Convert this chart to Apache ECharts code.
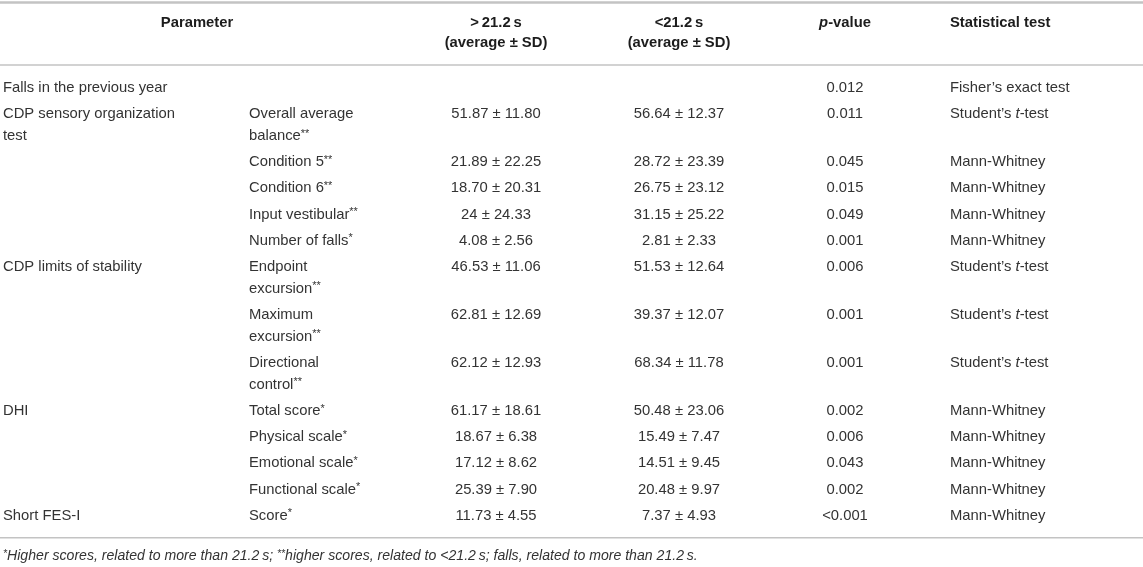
<!DOCTYPE html>
<html><head><meta charset="utf-8">
<script src="https://cdn.jsdelivr.net/npm/echarts@6/dist/echarts.min.js"></script>
<style>html,body{margin:0;padding:0;background:#fff}#c{width:1143px;height:567px}</style>
</head><body><div id="c"></div>
<script>
// ---- table content ----
const headers = ['Parameter', '>\u200921.2\u2009s\n(average ± SD)', '<21.2\u2009s\n(average ± SD)', 'p-value', 'Statistical test'];
const parameters = ['Falls in the previous year', 'CDP sensory organization\ntest', '', '', '', '', 'CDP limits of stability', '', '', 'DHI', '', '', '', 'Short FES-I'];
const subParameters = ['', 'Overall average\nbalance**', 'Condition 5**', 'Condition 6**', 'Input vestibular**', 'Number of falls*', 'Endpoint\nexcursion**', 'Maximum\nexcursion**', 'Directional\ncontrol**', 'Total score*', 'Physical scale*', 'Emotional scale*', 'Functional scale*', 'Score*'];
const aboveValues = ['', '51.87 ± 11.80', '21.89 ± 22.25', '18.70 ± 20.31', '24 ± 24.33', '4.08 ± 2.56', '46.53 ± 11.06', '62.81 ± 12.69', '62.12 ± 12.93', '61.17 ± 18.61', '18.67 ± 6.38', '17.12 ± 8.62', '25.39 ± 7.90', '11.73 ± 4.55'];
const belowValues = ['', '56.64 ± 12.37', '28.72 ± 23.39', '26.75 ± 23.12', '31.15 ± 25.22', '2.81 ± 2.33', '51.53 ± 12.64', '39.37 ± 12.07', '68.34 ± 11.78', '50.48 ± 23.06', '15.49 ± 7.47', '14.51 ± 9.45', '20.48 ± 9.97', '7.37 ± 4.93'];
const pValues = ['0.012', '0.011', '0.045', '0.015', '0.049', '0.001', '0.006', '0.001', '0.001', '0.002', '0.006', '0.043', '0.002', '<0.001'];
const tests = ['Fisher\u2019s exact test', 'Student\u2019s t-test', 'Mann-Whitney', 'Mann-Whitney', 'Mann-Whitney', 'Mann-Whitney', 'Student\u2019s t-test', 'Student\u2019s t-test', 'Student\u2019s t-test', 'Mann-Whitney', 'Mann-Whitney', 'Mann-Whitney', 'Mann-Whitney', 'Mann-Whitney'];
const footnote = '*Higher scores, related to more than 21.2\u2009s; **higher scores, related to <21.2\u2009s; falls, related to more than 21.2\u2009s.';

// ---- layout & style ----
const W = 1143, H = 567;
const FONT = "'Liberation Sans', Arial, Helvetica, sans-serif";
const L = { ruleTop: 2.5, headerRule: 65, headerY: 23, headerLineH: 20, firstRow: 88, rowGap: 26.2, lineH: 21.8, bottomPad: 22, footGap: 18.5 };
const COLS = [
  { key: 'param', x: 3, align: 'left' },
  { key: 'sub', x: 249, align: 'left' },
  { key: 'above', x: 496, align: 'center' },
  { key: 'below', x: 679, align: 'center' },
  { key: 'p', x: 845, align: 'center' },
  { key: 'test', x: 950, align: 'left' }
];
const HEADER_X = [{ x: 197, align: 'center' }, { x: 496, align: 'center' }, { x: 679, align: 'center' }, { x: 845, align: 'center' }, { x: 950, align: 'left' }];

function mkStyle(size, weight, italic, color, lh) {
  const base = { fontSize: size, fontFamily: FONT, fontWeight: weight, fontStyle: italic ? 'italic' : 'normal', fill: color, lineHeight: lh };
  return {
    base: base,
    rich: {
      sup: { fontSize: size * 0.74, fontFamily: FONT, fontWeight: weight, fontStyle: base.fontStyle, fill: color, verticalAlign: 'middle', lineHeight: size * 0.74, padding: [0, 0, 5, 0] },
      it: Object.assign({}, base, { fontStyle: 'italic' })
    }
  };
}
const STYLES = {
  header: mkStyle(14.8, 'bold', false, '#1c1c1c', L.headerLineH),
  body: mkStyle(14.8, 'normal', false, '#333333', L.lineH),
  foot: mkStyle(14.1, 'normal', true, '#333333', L.lineH)
};

function supify(s) { return s.replace(/(\*+)/g, '{sup|$1}'); }
function italT(s) { return s.replace(' t-test', ' {it|t}-test'); }

// ---- build cells from the arrays ----
const cells = [];
function addCell(x, yCenter, text, align, kind, lh) {
  if (!text) return;
  cells.push({ x: x, y: yCenter - lh / 2, text: text, align: align, kind: kind });
}
headers.forEach(function (h, i) {
  let t = h;
  if (i === 3) t = '{it|p}-value';
  addCell(HEADER_X[i].x, L.headerY, t, HEADER_X[i].align, 'header', L.headerLineH);
});
let y = L.firstRow;
let lastBottom = y;
for (let i = 0; i < parameters.length; i++) {
  const texts = [parameters[i], supify(subParameters[i]), aboveValues[i], belowValues[i], pValues[i], italT(tests[i])];
  let lines = 1;
  texts.forEach(function (t, c) {
    lines = Math.max(lines, t.split('\n').length);
    addCell(COLS[c].x, y, t, COLS[c].align, 'body', L.lineH);
  });
  lastBottom = y + (lines - 1) * L.lineH;
  y += L.rowGap + (lines - 1) * L.lineH;
}
const bottomRule = lastBottom + L.bottomPad;
addCell(3, bottomRule + L.footGap, supify(footnote), 'left', 'foot', L.lineH);
const rules = [[L.ruleTop, 2.5], [L.headerRule, 1.5], [bottomRule, 1.5]];

const chart = echarts.init(document.getElementById('c'), null, { renderer: 'canvas' });
chart.setOption({
  animation: false,
  backgroundColor: '#ffffff',
  grid: { left: 0, right: 0, top: 0, bottom: 0 },
  xAxis: { type: 'value', min: 0, max: W, show: false },
  yAxis: { type: 'value', min: 0, max: H, inverse: true, show: false },
  series: [
    {
      type: 'custom', silent: true,
      data: rules,
      renderItem: function (params, api) {
        const a = api.coord([0, api.value(0)]);
        const b = api.coord([W, api.value(0)]);
        return { type: 'line', shape: { x1: a[0], y1: a[1], x2: b[0], y2: b[1] }, style: { stroke: '#c3c3c3', lineWidth: api.value(1) } };
      }
    },
    {
      type: 'custom', silent: true,
      data: cells.map(function (c, i) { return [c.x, c.y, i]; }),
      renderItem: function (params, api) {
        const c = cells[api.value(2)];
        const p = api.coord([api.value(0), api.value(1)]);
        const st = STYLES[c.kind];
        return {
          type: 'text', x: p[0], y: p[1],
          style: Object.assign({ text: c.text, align: c.align, verticalAlign: 'top', rich: st.rich }, st.base)
        };
      }
    }
  ]
});
</script></body></html>
